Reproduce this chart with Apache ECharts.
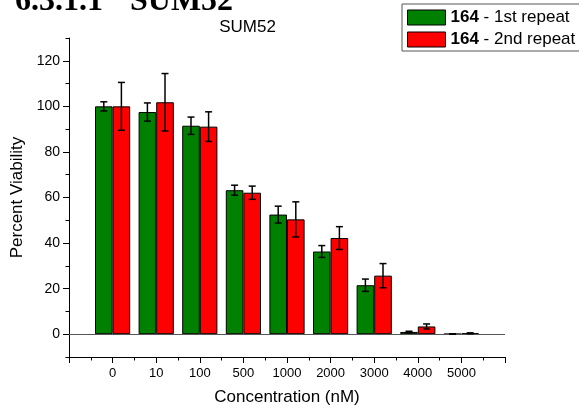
<!DOCTYPE html>
<html>
<head>
<meta charset="utf-8">
<script src="https://cdn.jsdelivr.net/npm/echarts@6/dist/echarts.min.js"></script>
<style>
  html, body { margin: 0; padding: 0; background: #fff; }
  #chart { width: 579px; height: 415px; }
</style>
</head>
<body>
<div id="chart"></div>
<script>
// Drug concentrations tested (nM)
const categories = ['0', '10', '100', '500', '1000', '2000', '3000', '4000', '5000'];
// Percent viability, compound 164, first repeat (mean and error)
const repeat1 = [100, 97.5, 91.5, 63.2, 52.5, 36.3, 21.5, 1.0, 0.1];
const repeat1Err = [2.0, 4.0, 3.8, 2.2, 3.7, 2.6, 2.7, 0.3, 0.1];
// Percent viability, compound 164, second repeat (mean and error)
const repeat2 = [100, 101.8, 91.1, 62.1, 50.4, 42.2, 25.7, 3.4, 0.4];
const repeat2Err = [10.5, 12.6, 6.5, 2.9, 7.7, 5.0, 5.3, 1.1, 0.2];
// Labelled ticks on the viability axis
const yTicks = [0, 20, 40, 60, 80, 100, 120];
const seriesNames = ['1st repeat', '2nd repeat'];
const compound = '164';

const FONT = '"Liberation Sans", Arial, sans-serif';
const BAR_W = 17.6;
const GREEN = '#008000';
const RED = '#ff0000';

// One empty slot on each side of the concentration axis
const axisCats = [''].concat(categories, ['']);

function barData(values) {
  return values.map((v, i) => [i + 1, v]);
}

function errorSeries(values, errs, shift) {
  return {
    type: 'custom',
    xAxisIndex: 0,
    yAxisIndex: 0,
    z: 5,
    silent: true,
    data: values.map((v, i) => [i + 1, v - errs[i], v + errs[i]]),
    encode: { x: 0, y: [1, 2] },
    renderItem(params, api) {
      const lo = api.coord([api.value(0), api.value(1)]);
      const hi = api.coord([api.value(0), api.value(2)]);
      const x = lo[0] + shift;
      const cap = 3.5;
      const st = { stroke: '#000', lineWidth: 1.5 };
      return {
        type: 'group',
        children: [
          { type: 'line', shape: { x1: x, y1: hi[1], x2: x, y2: lo[1] }, style: st },
          { type: 'line', shape: { x1: x - cap, y1: hi[1], x2: x + cap, y2: hi[1] }, style: st },
          { type: 'line', shape: { x1: x - cap, y1: lo[1], x2: x + cap, y2: lo[1] }, style: st }
        ]
      };
    }
  };
}

const chart = echarts.init(document.getElementById('chart'), null, { renderer: 'canvas' });

chart.setOption({
  animation: false,
  backgroundColor: '#fff',
  textStyle: { fontFamily: FONT, color: '#000' },
  grid: { left: 69, right: 74, top: 38, bottom: 58, containLabel: false },
  graphic: [
    {
      type: 'text', x: 15, y: 2, silent: true,
      style: { text: '6.3.1.1', fill: '#000', font: 'bold 32px "Liberation Serif", serif', textVerticalAlign: 'middle' }
    },
    {
      type: 'text', x: 130, y: 2, silent: true,
      style: { text: 'SUM52', fill: '#000', font: 'bold 32px "Liberation Serif", serif', textVerticalAlign: 'middle' }
    },
    {
      type: 'text', x: 247.5, y: 27.5, silent: true,
      style: { text: 'SUM52', fill: '#000', font: '17px ' + FONT, textAlign: 'center', textVerticalAlign: 'middle' }
    }
  ],
  legend: {
    orient: 'vertical',
    left: 402,
    top: 4,
    padding: [5, 20, 3, 5],
    itemGap: 5,
    itemWidth: 38,
    itemHeight: 15,
    icon: 'rect',
    borderColor: '#555',
    borderWidth: 1,
    backgroundColor: '#fff',
    data: seriesNames,
    formatter: n => '{b|' + compound + '} - ' + n,
    itemStyle: { borderColor: '#000', borderWidth: 1 },
    textStyle: {
      fontFamily: FONT, fontSize: 17, color: '#000',
      rich: { b: { fontFamily: FONT, fontSize: 17, fontWeight: 'bold', color: '#000' } }
    }
  },
  xAxis: [
    {
      type: 'category',
      data: axisCats,
      boundaryGap: false,
      position: 'bottom',
      axisLine: { onZero: false, lineStyle: { color: '#000', width: 1 } },
      axisTick: { interval: 0, length: 6, lineStyle: { color: '#000', width: 1 } },
      axisLabel: { interval: 0, fontSize: 13, margin: 10, color: '#000', fontFamily: FONT },
      splitLine: { show: false },
      name: 'Concentration (nM)',
      nameLocation: 'middle',
      nameGap: 32,
      nameTextStyle: { fontSize: 17, color: '#000', fontFamily: FONT }
    },
    {
      // half-step minor ticks between concentrations
      type: 'value',
      min: 0, max: 20, interval: 1,
      position: 'bottom',
      axisLine: { show: false, onZero: false },
      axisTick: { show: true, length: 3.5, lineStyle: { color: '#000', width: 1 } },
      axisLabel: { show: false },
      splitLine: { show: false }
    }
  ],
  yAxis: [
    {
      type: 'value',
      min: -10, max: 130, interval: 10,
      position: 'left',
      axisLine: { show: true, onZero: false, lineStyle: { color: '#000', width: 1 } },
      axisTick: { show: true, customValues: yTicks, length: 6, lineStyle: { color: '#000', width: 1 } },
      axisLabel: { customValues: yTicks, fontSize: 14, margin: 9, color: '#000', fontFamily: FONT },
      splitLine: { show: false },
      name: 'Percent Viability',
      nameLocation: 'middle',
      nameGap: 43,
      nameRotate: 90,
      nameTextStyle: { fontSize: 17, color: '#000', fontFamily: FONT }
    },
    {
      type: 'value',
      min: -10, max: 130, interval: 10,
      position: 'left',
      axisLine: { show: false, onZero: false },
      axisTick: { show: true, length: 3.5, lineStyle: { color: '#000', width: 1 } },
      axisLabel: { show: false },
      splitLine: { show: false }
    }
  ],
  series: [
    {
      name: seriesNames[0],
      type: 'bar',
      xAxisIndex: 0, yAxisIndex: 0,
      barWidth: BAR_W,
      barGap: '0%',
      data: barData(repeat1),
      itemStyle: { color: GREEN, borderColor: '#000', borderWidth: 1 },
      markLine: {
        silent: true,
        symbol: ['none', 'none'],
        label: { show: false },
        lineStyle: { color: '#555', width: 1, type: 'solid' },
        data: [{ yAxis: 0 }]
      }
    },
    {
      name: seriesNames[1],
      type: 'bar',
      xAxisIndex: 0, yAxisIndex: 0,
      barWidth: BAR_W,
      barGap: '0%',
      data: barData(repeat2),
      itemStyle: { color: RED, borderColor: '#000', borderWidth: 1 }
    },
    errorSeries(repeat1, repeat1Err, -BAR_W / 2),
    errorSeries(repeat2, repeat2Err, BAR_W / 2)
  ]
});
</script>
</body>
</html>
